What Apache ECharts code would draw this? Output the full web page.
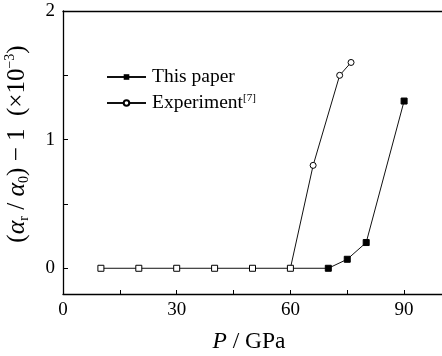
<!DOCTYPE html>
<html><head><meta charset="utf-8">
<script src="https://cdn.jsdelivr.net/npm/echarts@6/dist/echarts.min.js"></script>
<style>html,body{margin:0;padding:0;background:#fff}#c{width:442px;height:356px}</style>
</head><body><div id="c"></div>
<script>
// Data
const baseP = [10, 20, 30, 40, 50, 60];
const baseV = [0, 0, 0, 0, 0, 0];
const paperP = [70, 75, 80, 90];
const paperV = [0, 0.07, 0.2, 1.3];
const expP = [60, 66, 73, 76];
const expV = [0, 0.8, 1.5, 1.6];
const xTicks = [0, 30, 60, 90];
const xMinor = [15, 45, 75];
const yTicks = [0, 1, 2];
const yMinor = [0.5, 1.5];

const FONT = 'Liberation Serif';
const chart = echarts.init(document.getElementById('c'));

const paperData = baseP.map((p, i) => ({value: [p, baseV[i]], symbol: 'rect', itemStyle: {color: '#fff', borderColor: '#000', borderWidth: 1}}))
  .concat(paperP.map((p, i) => ({value: [p, paperV[i]]})));
const expData = expP.map((p, i) => ({value: [p, expV[i]], symbol: i === 0 ? 'none' : 'circle'}));

chart.setOption({
  animation: false,
  grid: {left: 63, top: 11, width: 381.5, height: 283},
  xAxis: [{
    type: 'value', min: 0, max: 100, position: 'bottom',
    axisLine: {onZero: false, lineStyle: {color: '#000', width: 1.3}},
    axisTick: {inside: true, length: 4, customValues: xTicks.concat(xMinor), lineStyle: {color: '#000', width: 1}},
    axisLabel: {customValues: xTicks, margin: 7, fontFamily: FONT, fontSize: 19, color: '#000'},
    splitLine: {show: false}
  }, {
    type: 'value', min: 0, max: 100, position: 'top',
    axisLine: {show: true, onZero: false, lineStyle: {color: '#000', width: 1.3}},
    axisTick: {show: false}, axisLabel: {show: false}, splitLine: {show: false}
  }],
  yAxis: {
    type: 'value', min: -0.2, max: 2,
    axisLine: {show: true, onZero: false, lineStyle: {color: '#000', width: 1.3}},
    axisTick: {inside: true, length: 5, customValues: yTicks.concat(yMinor), lineStyle: {color: '#000', width: 1}},
    axisLabel: {customValues: yTicks, margin: 8, fontFamily: FONT, fontSize: 19, color: '#000'},
    splitLine: {show: false}
  },
  legend: {
    orient: 'vertical', left: 101, top: 62, itemGap: 6, itemWidth: 39, itemHeight: 7,
    textStyle: {fontFamily: FONT, fontSize: 19.5, color: '#000', padding: [0, 0, 0, 1], rich: {
      t: {fontFamily: FONT, fontSize: 19.5, color: '#000'},
      s: {fontFamily: FONT, fontSize: 11, color: '#000', verticalAlign: 'top', lineHeight: 11, padding: [0,0,6,0]}
    }},
    formatter: n => n === 'Experiment' ? '{t|Experiment}{s|[7]}' : '{t|' + n + '}',
    data: ['This paper', 'Experiment']
  },
  series: [{
    name: 'Experiment', type: 'line', data: expData, symbol: 'circle', symbolSize: 6,
    lineStyle: {color: '#111', width: 1}, itemStyle: {color: '#fff', borderColor: '#000', borderWidth: 1}, z: 2
  }, {
    name: 'This paper', type: 'line', data: paperData, symbol: 'rect', symbolSize: 6,
    lineStyle: {color: '#111', width: 1}, itemStyle: {color: '#000', borderColor: '#000'}, z: 3
  }],
  graphic: [{
    type: 'text', x: 17, y: 144, rotation: Math.PI / 2,
    style: {
      text: '{p|(}{a|α}{sub|r}{p| / }{a|α}{sub|0}{p|) − 1  (×10}{sup|−3}{p|)}',
      align: 'center', verticalAlign: 'middle',
      rich: {
        p: {fontFamily: FONT, fontSize: 25, fill: '#000', lineHeight: 28, verticalAlign: 'middle'},
        a: {fontFamily: FONT, fontSize: 26, fontStyle: 'italic', fill: '#000', lineHeight: 28, verticalAlign: 'middle'},
        sub: {fontFamily: FONT, fontSize: 14, fill: '#000', lineHeight: 14, verticalAlign: 'bottom'},
        sup: {fontFamily: FONT, fontSize: 14, fill: '#000', lineHeight: 14, verticalAlign: 'top'}
      }
    }
  }, {
    type: 'text', x: 249, y: 342,
    style: {
      text: '{i|P}{p| / GPa}', align: 'center', verticalAlign: 'middle',
      rich: {
        i: {fontFamily: FONT, fontSize: 23.5, fontStyle: 'italic', fill: '#000'},
        p: {fontFamily: FONT, fontSize: 23.5, fill: '#000'}
      }
    }
  }]
});
</script></body></html>
